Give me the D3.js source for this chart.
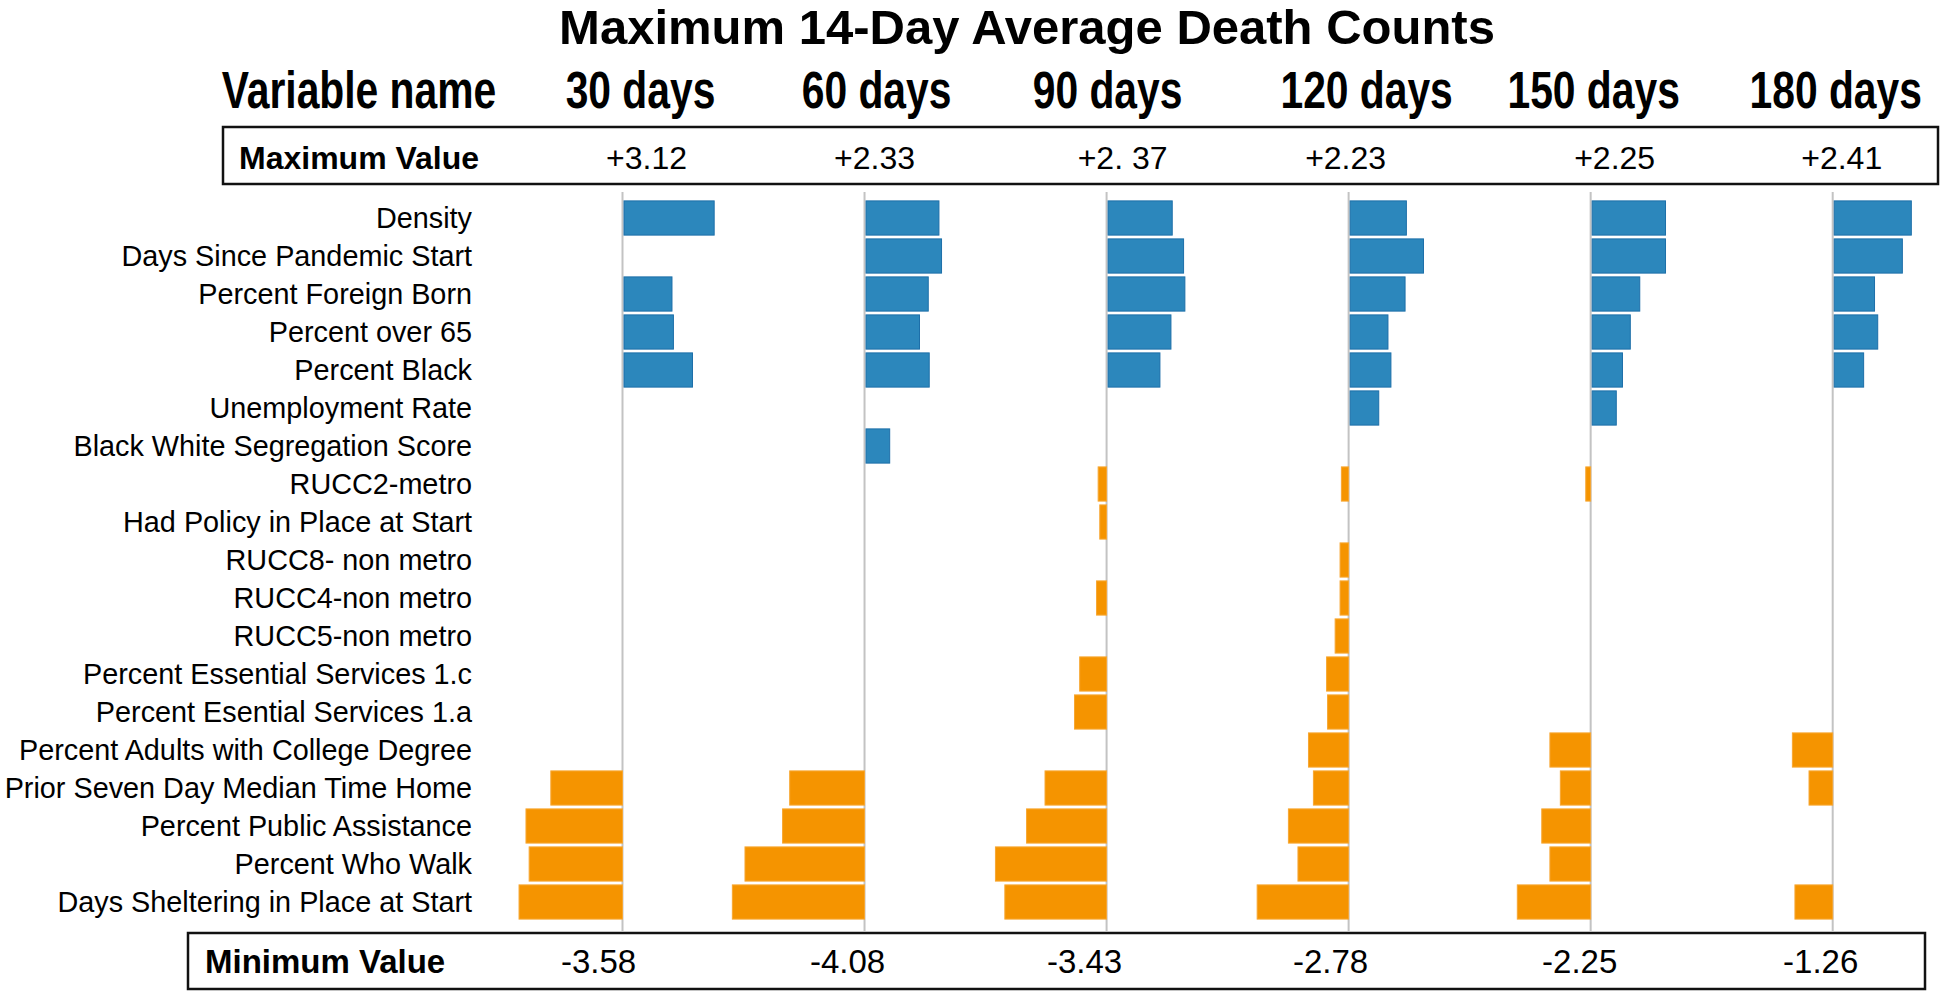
<!DOCTYPE html>
<html>
<head>
<meta charset="utf-8">
<script src="https://cdn.jsdelivr.net/npm/d3@7"></script>
<style>
  body { margin: 0; background: #fff; }
  text { font-family: "Liberation Sans", Arial, sans-serif; fill: #000; }
</style>
</head>
<body>
<div id="chart"></div>
<script>
// chart values
const variables = [
  'Density',
  'Days Since Pandemic Start',
  'Percent Foreign Born',
  'Percent over 65',
  'Percent Black',
  'Unemployment Rate',
  'Black White Segregation Score',
  'RUCC2-metro',
  'Had Policy in Place at Start',
  'RUCC8- non metro',
  'RUCC4-non metro',
  'RUCC5-non metro',
  'Percent Essential Services 1.c',
  'Percent Esential Services 1.a',
  'Percent Adults with College Degree',
  'Prior Seven Day Median Time Home',
  'Percent Public Assistance',
  'Percent Who Walk',
  'Days Sheltering in Place at Start'
];
const periods = ['30 days', '60 days', '90 days', '120 days', '150 days', '180 days'];

const days30  = [3.12, null, 1.66, 1.71, 2.37, null, null, null, null, null, null, null, null, null, null, -2.48, -3.34, -3.23, -3.58];
const days60  = [2.25, 2.33, 1.92, 1.65, 1.95, null, 0.73, null, null, null, null, null, null, null, null, -2.31, -2.53, -3.69, -4.08];
const days90  = [1.98, 2.33, 2.37, 1.94, 1.60, null, null, -0.26, -0.21, null, -0.31, null, -0.83, -0.99, null, -1.90, -2.47, -3.43, -3.14];
const days120 = [1.71, 2.23, 1.67, 1.15, 1.24, 0.87, null, -0.22, null, -0.26, -0.26, -0.41, -0.67, -0.64, -1.22, -1.07, -1.83, -1.54, -2.78];
const days150 = [2.25, 2.25, 1.46, 1.17, 0.93, 0.74, null, -0.15, null, null, null, null, null, null, -1.25, -0.93, -1.50, -1.25, -2.25];
const days180 = [2.41, 2.13, 1.26, 1.36, 0.92, null, null, null, null, null, null, null, null, null, -1.26, -0.74, null, null, -1.18];

const maxLabels = ['+3.12', '+2.33', '+2. 37', '+2.23', '+2.25', '+2.41'];
const minLabels = ['-3.58', '-4.08', '-3.43', '-2.78', '-2.25', '-1.26'];

const series = [days30, days60, days90, days120, days150, days180];

// layout
const width = 1944;
const height = 993;
const pxPerUnit = [28.9, 32.4, 32.4, 32.9, 32.6, 32.0];
const headerDx = [18, 12, 1, 18, 3, 3];
const maxDx = [24, 10, 16, -3, 24, 9];
const minDx = [-24, -17, -22, -18, -11, -12];

const svg = d3.select('#chart')
  .append('svg')
  .attr('width', width)
  .attr('height', height)
  .attr('viewBox', [0, 0, width, height]);

const panel = d3.scalePoint()
  .domain(periods)
  .range([622.5, 1832.7]);

const y = d3.scaleBand()
  .domain(variables)
  .range([199, 921])
  .paddingInner(0.1)
  .paddingOuter(0.05);

// title + header row
svg.append('text')
  .attr('x', 1027)
  .attr('y', 44)
  .attr('text-anchor', 'middle')
  .attr('font-size', 49)
  .attr('font-weight', 'bold')
  .text('Maximum 14-Day Average Death Counts');

// header texts are narrow bold: squeeze them horizontally
const headers = [{ label: 'Variable name', cx: 359 }]
  .concat(periods.map((p, i) => ({ label: p, cx: panel(p) + headerDx[i] })));

svg.append('g')
  .selectAll('text')
  .data(headers)
  .join('text')
    .attr('transform', d => `translate(${d.cx},108) scale(0.8,1)`)
    .attr('text-anchor', 'middle')
    .attr('font-size', 51)
    .attr('font-weight', 'bold')
    .text(d => d.label);

// max / min boxes
svg.append('rect')
  .attr('x', 223).attr('y', 127)
  .attr('width', 1715).attr('height', 57)
  .attr('fill', 'none')
  .attr('stroke', '#111')
  .attr('stroke-width', 2.5);

svg.append('text')
  .attr('x', 239).attr('y', 169)
  .attr('font-size', 32)
  .attr('font-weight', 'bold')
  .text('Maximum Value');

svg.append('g')
  .selectAll('text')
  .data(maxLabels)
  .join('text')
    .attr('x', (d, i) => panel(periods[i]) + maxDx[i])
    .attr('y', 169)
    .attr('text-anchor', 'middle')
    .attr('font-size', 32)
    .text(d => d);

svg.append('rect')
  .attr('x', 188).attr('y', 933)
  .attr('width', 1737).attr('height', 56)
  .attr('fill', 'none')
  .attr('stroke', '#111')
  .attr('stroke-width', 2.5);

svg.append('text')
  .attr('x', 205).attr('y', 973)
  .attr('font-size', 33)
  .attr('font-weight', 'bold')
  .text('Minimum Value');

svg.append('g')
  .selectAll('text')
  .data(minLabels)
  .join('text')
    .attr('x', (d, i) => panel(periods[i]) + minDx[i])
    .attr('y', 973)
    .attr('text-anchor', 'middle')
    .attr('font-size', 33)
    .text(d => d);

// row labels
svg.append('g')
  .selectAll('text')
  .data(variables)
  .join('text')
    .attr('x', 472)
    .attr('y', d => y(d) + y.bandwidth() / 2 + 10)
    .attr('text-anchor', 'end')
    .attr('font-size', 28.8)
    .text(d => d);

// zero lines
svg.append('g')
  .selectAll('line')
  .data(periods)
  .join('line')
    .attr('x1', d => panel(d))
    .attr('x2', d => panel(d))
    .attr('y1', 192)
    .attr('y2', 932)
    .attr('stroke', '#c3c3c3')
    .attr('stroke-width', 2);

// bars, one group per period
periods.forEach((p, i) => {
  const x = d3.scaleLinear()
    .domain([0, 1])
    .range([panel(p), panel(p) + pxPerUnit[i]]);

  const rows = variables
    .map((v, j) => ({ name: v, value: series[i][j] }))
    .filter(d => d.value !== null);

  svg.append('g')
    .selectAll('rect')
    .data(rows)
    .join('rect')
      .attr('x', d => Math.min(x(0), x(d.value)) + (d.value > 0 ? 1.5 : 0))
      .attr('y', d => y(d.name))
      .attr('width', d => Math.abs(x(d.value) - x(0)))
      .attr('height', y.bandwidth())
      .attr('fill', d => d.value > 0 ? '#2c87bc' : '#f59400')
      .attr('stroke', d => d.value > 0 ? '#1d6fa9' : '#f7a733')
      .attr('stroke-width', 1);
});
</script>
</body>
</html>
